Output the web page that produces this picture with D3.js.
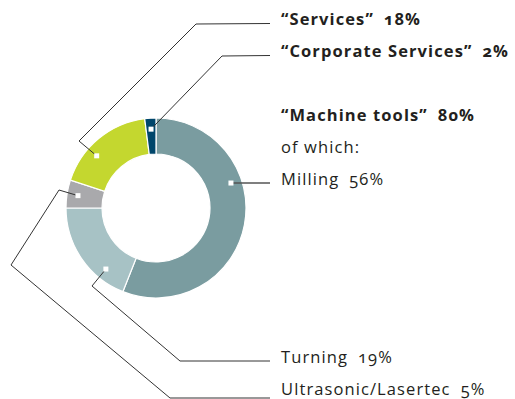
<!DOCTYPE html>
<html>
<head>
<meta charset="utf-8">
<script src="https://d3js.org/d3.v7.min.js"></script>
<style>
  body { margin: 0; background: #fff; }
  text { font-family: "Open Sans", sans-serif; font-variant-numeric: oldstyle-nums; fill: #231f20; }
</style>
</head>
<body>
<div id="chart"></div>
<script>
// data
var categories = ["Milling", "Turning", "Ultrasonic/Lasertec", "“Services”", "“Corporate Services”"];
var values = [56, 19, 5, 18, 2];
var colors = ["#7a9ca0", "#a7c2c5", "#a9a9ac", "#c4d72f", "#00466b"];
var bold = [false, false, false, true, true];

// layout
var width = 515, height = 399;
var cx = 156, cy = 208, outerR = 90, innerR = 54, markR = 79;
var textX = 281, lineEndX = 270;
// where the marker sits inside its slice (0 = start, 1 = end)
var markFrac = [0.355, 0.26, 0.5, 0.36, 0.5];
var labelY = [185, 363, 395, 25, 57];
var lineY = [183, 361, 398, 23.5, 55.5];
// elbow points of leader lines, relative to chart centre
var elbows = [
    [],
    [[-64, 78], [24, 153]],
    [[-97, -18], [-145, 57], [14, 190]],
    [[-77, -67], [40, -184]],
    [[66, -152]]
];

var svg = d3.select("#chart").append("svg")
    .attr("width", width)
    .attr("height", height);

var pie = d3.pie().sort(null).value(function(d) { return d; });
var arcs = pie(values);
var arc = d3.arc().innerRadius(innerR).outerRadius(outerR);

var g = svg.append("g").attr("transform", "translate(" + cx + "," + cy + ")");

g.selectAll("path.slice")
    .data(arcs)
    .enter()
    .append("path")
    .attr("class", "slice")
    .attr("d", arc)
    .attr("fill", function(d, i) { return colors[i]; })
    .attr("stroke", "#fff")
    .attr("stroke-width", 1.2);

function markPoint(d, i) {
    var a = d.startAngle + (d.endAngle - d.startAngle) * markFrac[i];
    return [markR * Math.sin(a), -markR * Math.cos(a)];
}

// leader lines
var line = d3.line();
arcs.forEach(function(d, i) {
    var p = markPoint(d, i);
    var pts = [p].concat(elbows[i]).concat([[lineEndX - cx, lineY[i] - cy]]);
    if (i == 0) pts = [p, [lineEndX - cx, p[1]]];
    g.append("path")
        .attr("d", line(pts))
        .attr("fill", "none")
        .attr("stroke", i == 0 ? "#555" : "#333")
        .attr("stroke-width", i == 0 ? 1.5 : 1);
});

g.selectAll("rect.mark")
    .data(arcs)
    .enter()
    .append("rect")
    .attr("class", "mark")
    .attr("x", function(d, i) { return markPoint(d, i)[0] - 2.5; })
    .attr("y", function(d, i) { return markPoint(d, i)[1] - 2.5; })
    .attr("width", 5)
    .attr("height", 5)
    .attr("fill", "#fff");

// labels
function addLabel(name, pct, y, isBold) {
    var t = svg.append("text")
        .attr("x", textX)
        .attr("y", y)
        .style("font-size", "16.5px")
        .style("font-weight", isBold ? 700 : 400)
        .style("letter-spacing", "1.1px");
    t.append("tspan").text(name);
    if (pct != null) t.append("tspan").attr("dx", 10).text(pct + "%");
}

categories.forEach(function(c, i) {
    addLabel(c, values[i], labelY[i], bold[i]);
});
addLabel("“Machine tools”", values[0] + values[1] + values[2], 121, true);
addLabel("of which:", null, 153, false);
</script>
</body>
</html>
